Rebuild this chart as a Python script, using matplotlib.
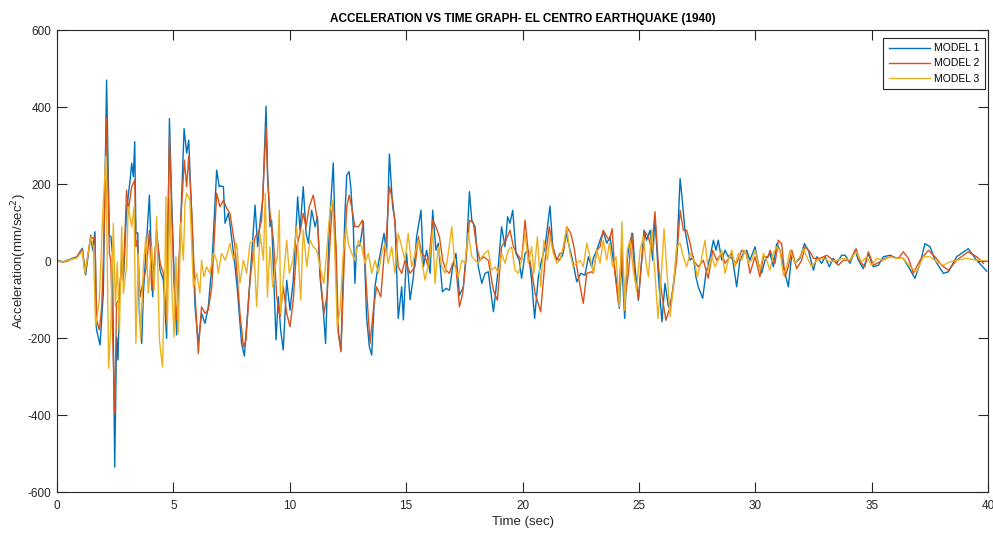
import matplotlib
matplotlib.use("Agg")
import matplotlib.pyplot as plt

plt.rcParams['font.family'] = ['Liberation Sans', 'DejaVu Sans']
plt.rcParams['axes.unicode_minus'] = False

# MODEL 1 (time in sec, acceleration in mm/sec^2)
t1 = [0.0, 0.27, 0.56, 0.85, 1.09, 1.23, 1.45, 1.53, 1.63, 1.70, 1.85, 1.99, 2.13, 2.25, 2.32, 2.38,
      2.48, 2.56, 2.62, 2.68, 2.78, 2.85, 2.99, 3.14, 3.21, 3.28, 3.34, 3.39, 3.47, 3.54, 3.64, 3.71,
      3.97, 4.11, 4.28, 4.43, 4.57, 4.71, 4.83, 4.93, 5.03, 5.14, 5.31, 5.46, 5.57, 5.66, 5.79, 5.93,
      6.07, 6.21, 6.36, 6.50, 6.65, 6.86, 6.97, 7.03, 7.15, 7.22, 7.36, 7.43, 7.65, 7.75, 7.93, 8.05,
      8.29, 8.51, 8.62, 8.75, 8.84, 8.98, 9.05, 9.15, 9.22, 9.41, 9.51, 9.61, 9.72, 9.87, 10.01, 10.15,
      10.34, 10.44, 10.58, 10.70, 10.80, 10.94, 11.09, 11.19, 11.30, 11.44, 11.54, 11.69, 11.87, 11.99,
      12.09, 12.20, 12.37, 12.45, 12.55, 12.62, 12.73, 12.80, 12.87, 13.02, 13.16, 13.30, 13.42, 13.52,
      13.66, 13.81, 14.05, 14.16, 14.28, 14.42, 14.52, 14.66, 14.81, 14.88, 15.02, 15.17, 15.31, 15.45,
      15.64, 15.74, 15.88, 16.03, 16.14, 16.28, 16.38, 16.56, 16.71, 16.86, 17.00, 17.14, 17.29, 17.46,
      17.60, 17.72, 17.82, 17.96, 18.10, 18.25, 18.39, 18.53, 18.75, 18.92, 19.10, 19.25, 19.36, 19.46,
      19.58, 19.72, 19.86, 19.96, 20.11, 20.25, 20.39, 20.52, 20.68, 20.82, 20.97, 21.18, 21.30, 21.44,
      21.58, 21.72, 21.87, 22.01, 22.15, 22.33, 22.50, 22.68, 22.83, 22.97, 23.04, 23.19, 23.33, 23.47,
      23.62, 23.76, 23.90, 24.02, 24.16, 24.26, 24.39, 24.50, 24.59, 24.73, 24.83, 24.98, 25.12, 25.22,
      25.33, 25.48, 25.59, 25.69, 25.84, 25.99, 26.12, 26.27, 26.41, 26.55, 26.65, 26.77, 26.85, 26.98,
      27.08, 27.20, 27.34, 27.45, 27.55, 27.74, 27.88, 28.06, 28.20, 28.31, 28.41, 28.56, 28.70, 28.84,
      28.99, 29.20, 29.34, 29.49, 29.63, 29.77, 29.99, 30.13, 30.27, 30.42, 30.63, 30.78, 30.92, 31.06,
      31.21, 31.42, 31.57, 31.71, 31.92, 32.11, 32.28, 32.50, 32.64, 32.85, 33.00, 33.18, 33.35, 33.50,
      33.71, 33.86, 34.07, 34.29, 34.43, 34.64, 34.86, 35.07, 35.29, 35.50, 35.79, 36.08, 36.36, 36.58,
      36.86, 37.08, 37.29, 37.51, 37.72, 38.08, 38.30, 38.65, 39.15, 39.51, 39.94]
a1 = [2, -2, 5, 11, 33, -36, 67, 28, 76, -179, -218, -84, 470, 67, 63, 20,
      -535, -197, -257, -101, 3, -50, 132, 210, 254, 219, 310, 72, 73, -136, -214, -84,
      171, -93, 80, -24, -50, -201, 370, 150, -32, -192, 89, 344, 280, 314, 115, -119,
      -214, -136, -162, -119, -15, 236, 193, 195, 193, 98, 124, 98, -15, -75, -214, -247,
      -50, 145, 37, 115, 158, 402, 228, 89, 106, -205, -93, -180, -231, -50, -128, -50,
      167, 80, 193, 72, 46, 132, 89, 115, -41, -128, -214, 80, 255, -24,
      -188, -231, 124, 223, 232, 193, 89, -58, 37, 41, 102, -145, -223, -244,
      -67, -6, 72, 20, 278, 141, 106, -149, -67, -153, 20, -101, -41, 63,
      132, -15, 28, -32, 132, 28, 46, -80, -71, -76, -15, 20, -89, -67,
      37, 180, 106, 89, -15, -58, -32, -28, -132, -41, 89, 37, 115, 98,
      132, 20, 2, -45, 20, 28, -50, -149, -41, 2, 37, 143, 37, 7,
      2, 15, 72, 37, 2, -54, -32, -37, 11, -15, 7, 28, 54, 76,
      46, 63, 2, -45, -123, 2, -149, 2, 46, 72, -15, -102, 2, 80,
      54, 80, 2, 115, -41, -158, -58, -119, -97, -24, 46, 214, 167, 80,
      46, 2, 11, -41, -67, -97, -32, 11, 54, 28, 54, 2, 28, 11,
      20, -67, 2, 20, 28, 2, 37, -6, -32, 2, 20, -15, 45, 28,
      -15, -67, 19, -6, 7, 45, 28, -24, 11, -6, 11, -15, 7, -6,
      15, 15, -6, 28, 2, -20, 19, -15, -11, 11, 15, 7, 7, -15,
      -45, -6, 45, 37, 2, -32, -28, 11, 32, 2, -26]

# MODEL 2
t2 = [0.0, 0.27, 0.56, 0.85, 1.09, 1.20, 1.45, 1.56, 1.63, 1.70, 1.82, 1.92, 1.99, 2.13, 2.25, 2.31,
      2.48, 2.56, 2.65, 2.78, 2.85, 2.99, 3.07, 3.21, 3.34, 3.39, 3.45, 3.57, 3.71, 3.85, 3.97, 4.07,
      4.28, 4.43, 4.57, 4.71, 4.83, 4.93, 5.03, 5.14, 5.31, 5.47, 5.57, 5.66, 5.79, 5.93, 6.07, 6.21,
      6.36, 6.50, 6.65, 6.86, 7.00, 7.15, 7.29, 7.43, 7.65, 7.86, 8.01, 8.12, 8.29, 8.51, 8.65, 8.79,
      8.98, 9.05, 9.15, 9.30, 9.44, 9.58, 9.72, 9.87, 10.01, 10.15, 10.30, 10.44, 10.58, 10.70, 10.84,
      11.01, 11.19, 11.33, 11.47, 11.61, 11.80, 11.87, 11.99, 12.09, 12.20, 12.37, 12.45, 12.55, 12.66,
      12.80, 12.95, 13.13, 13.30, 13.45, 13.59, 13.73, 13.91, 14.05, 14.16, 14.28, 14.42, 14.52, 14.66,
      14.81, 14.95, 15.17, 15.38, 15.52, 15.67, 15.81, 15.95, 16.14, 16.28, 16.43, 16.57, 16.71, 16.86,
      17.00, 17.14, 17.29, 17.43, 17.57, 17.72, 17.89, 18.03, 18.17, 18.32, 18.53, 18.75, 18.92, 19.10,
      19.29, 19.46, 19.61, 19.75, 19.96, 20.11, 20.25, 20.39, 20.54, 20.78, 20.97, 21.15, 21.30, 21.47,
      21.61, 21.75, 21.90, 22.07, 22.21, 22.40, 22.61, 22.76, 22.97, 23.04, 23.19, 23.33, 23.47, 23.62,
      23.73, 23.85, 23.97, 24.12, 24.26, 24.39, 24.55, 24.69, 24.83, 24.98, 25.12, 25.26, 25.41, 25.55,
      25.69, 25.84, 25.98, 26.16, 26.34, 26.48, 26.62, 26.77, 26.91, 27.05, 27.20, 27.34, 27.55, 27.77,
      27.98, 28.17, 28.34, 28.56, 28.70, 28.91, 29.20, 29.42, 29.63, 29.77, 29.99, 30.20, 30.35, 30.56,
      30.63, 30.85, 30.99, 31.13, 31.28, 31.42, 31.57, 31.78, 31.99, 32.14, 32.35, 32.50, 32.78, 33.07,
      33.35, 33.57, 33.78, 34.07, 34.33, 34.50, 34.71, 34.86, 35.07, 35.36, 35.57, 35.86, 36.15, 36.36,
      36.58, 36.79, 37.08, 37.44, 37.72, 38.01, 38.30, 38.65, 39.15, 39.51, 39.80]
a2 = [0, -3, 3, 9, 30, -32, 63, 59, 63, -153, -179, -119, 2, 370, 20, 2,
      -396, -110, -101, -6, -41, 184, 132, 193, 210, 37, 54, -93, -50, -15, 80, -76,
      72, -6, -32, -153, 325, 124, -67, -153, 98, 262, 193, 271, 124, -84, -240, -119,
      -136, -127, -67, 176, 141, 158, 137, 124, 37, -136, -223, -205, -50, 63, 72, 106,
      349, 210, 124, 54, -93, -145, -67, -136, -171, -102, 37, 72, 124, 89, 141,
      171, 106, -50, -136, -84, 124, 150, 37, -188, -236, 54, 141, 171, 141,
      89, 89, 106, -76, -214, -128, -67, -93, 11, 72, 193, 158, 98, -15,
      -32, 2, -32, -15, 63, 20, 11, -15, 106, 89, 63, 2, -24, -32,
      -6, -15, -119, -84, 2, 106, 98, 37, 2, 11, 2, -76, -102, 37,
      54, 80, 37, 20, 2, 106, 20, -24, -84, -132, 2, 89, 37, 2,
      20, 20, 89, 72, 37, -41, -110, -32, -28, -32, 28, 37, 80, 63,
      54, 84, -32, -110, 37, -102, -32, 72, -41, -97, 2, 76, 63, 28,
      128, -15, -84, -154, -119, -67, 2, 132, 80, 80, 46, 2, -15, 2,
      -45, 28, 2, 20, -6, 11, -6, 28, 20, -32, 11, -41, 11, 11,
      28, -6, 54, 45, -41, -15, 28, -20, 2, 37, 24, 7, 7, 15,
      2, -11, 2, 2, 32, -2, -15, 24, -11, -2, 7, 11, 7, 24,
      7, -32, 2, 28, 11, -11, -24, 2, 24, 11, -6]

# MODEL 3
t3 = [0.0, 0.27, 0.56, 0.85, 1.09, 1.20, 1.45, 1.56, 1.66, 1.82, 1.96, 2.10, 2.22, 2.31, 2.42, 2.51,
      2.59, 2.68, 2.78, 2.85, 2.99, 3.06, 3.21, 3.31, 3.39, 3.49, 3.59, 3.71, 3.82, 3.92, 4.07, 4.17,
      4.28, 4.40, 4.53, 4.64, 4.68, 4.74, 4.85, 4.93, 5.03, 5.11, 5.21, 5.31, 5.43, 5.50, 5.57, 5.71,
      5.86, 6.00, 6.14, 6.21, 6.31, 6.43, 6.57, 6.72, 6.86, 6.93, 7.07, 7.22, 7.36, 7.43, 7.58, 7.72,
      7.86, 8.01, 8.15, 8.29, 8.44, 8.58, 8.72, 8.87, 8.95, 9.04, 9.15, 9.27, 9.37, 9.47, 9.55, 9.61,
      9.72, 9.87, 9.98, 10.13, 10.30, 10.47, 10.58, 10.73, 10.87, 11.01, 11.16, 11.30, 11.47, 11.73,
      11.84, 11.94, 12.04, 12.16, 12.30, 12.42, 12.52, 12.66, 12.80, 12.95, 13.09, 13.23, 13.38, 13.52,
      13.66, 13.81, 13.95, 14.09, 14.23, 14.38, 14.52, 14.66, 14.81, 14.95, 15.09, 15.24, 15.38, 15.52,
      15.67, 15.81, 16.00, 16.14, 16.24, 16.38, 16.53, 16.67, 16.81, 16.96, 17.10, 17.24, 17.39, 17.53,
      17.67, 17.82, 17.96, 18.10, 18.25, 18.39, 18.53, 18.67, 18.82, 18.96, 19.10, 19.25, 19.39, 19.53,
      19.68, 19.82, 19.96, 20.11, 20.25, 20.39, 20.49, 20.64, 20.78, 20.92, 21.07, 21.18, 21.32, 21.47,
      21.61, 21.75, 21.90, 22.04, 22.18, 22.33, 22.47, 22.61, 22.76, 22.90, 23.04, 23.19, 23.33, 23.47,
      23.62, 23.73, 23.87, 24.02, 24.16, 24.27, 24.39, 24.50, 24.62, 24.76, 24.90, 25.05, 25.19, 25.31,
      25.41, 25.55, 25.69, 25.82, 25.94, 26.08, 26.19, 26.34, 26.48, 26.62, 26.77, 26.91, 27.05, 27.20,
      27.37, 27.51, 27.65, 27.84, 27.98, 28.13, 28.27, 28.41, 28.56, 28.70, 28.84, 28.99, 29.13, 29.27,
      29.42, 29.56, 29.70, 29.85, 29.99, 30.20, 30.35, 30.49, 30.63, 30.78, 30.92, 31.06, 31.21, 31.35,
      31.49, 31.71, 31.92, 32.07, 32.21, 32.42, 32.64, 32.93, 33.21, 33.50, 33.78, 34.07, 34.33, 34.57,
      34.79, 35.00, 35.22, 35.50, 35.79, 36.08, 36.36, 36.65, 36.93, 37.22, 37.51, 37.79, 38.08, 38.37,
      38.65, 39.08, 39.51, 40.0]
a3 = [0, -2, 4, 8, 25, -32, 63, 37, -171, -101, 115, 271, -279, -171, 98, -119,
      -2, -188, 89, -84, -15, 141, 89, 141, -214, 20, -205, -15, 63, -84, 37, -76,
      115, -205, -275, -15, 167, -171, 167, -67, -197, 11, -188, 98, 2, 150, 176, 158,
      -67, -32, -84, 2, -41, -15, -32, 20, 2, -32, 20, 2, 28, 46, 2, 46,
      -58, 2, -32, 46, 54, -119, 72, 2, 176, -93, 37, -67, -15, 11, 132, -136,
      -50, 54, -32, 2, 89, -102, 80, -15, 54, 37, 28, -15, -58, 132,
      158, 20, -171, -128, 20, 89, 46, 20, 2, 54, 37, -6, 20, -32,
      2, -32, 20, 46, -6, 37, -32, 72, 37, 2, 72, -15, 20, 54,
      2, -50, 2, 80, -58, 37, -15, -32, 20, 89, -15, -41, 2, -6,
      72, 11, 2, -6, 11, 20, 28, -24, -15, -32, 20, -6, 28, 37,
      -24, -32, 2, 72, -6, 37, -32, 63, -67, 54, 2, 63, 20, -6,
      2, 37, 89, 20, -15, -6, 2, -15, 46, 11, -32, 28, -6, 54,
      2, 46, -15, 11, -119, 102, -128, 28, 54, -24, -76, 28, 63, -6,
      -41, 80, -32, -149, -58, 84, -15, -145, -67, 37, 46, 11, -15, 20,
      2, -41, -6, 54, -24, 11, -15, 2, 28, -32, 2, 28, -15, 20,
      2, 28, -6, 2, 28, -24, 20, 2, -24, 19, 37, 28, -37, -15,
      28, -6, 11, 32, 11, -15, 2, 7, -2, 2, 7, 2, 24, -2,
      11, -11, 7, 2, 11, 7, 7, -15, -28, 11, 11, -2, -11, -2,
      2, 7, 2, 0]

fig = plt.figure(figsize=(9.93, 5.33), dpi=100)
ax = fig.add_axes([0.0574, 0.0769, 0.9376, 0.8668])

ax.plot(t1, a1, color='#0072BD', lw=1.0, label='MODEL 1')
ax.plot(t2, a2, color='#D95319', lw=1.0, label='MODEL 2')
ax.plot(t3, a3, color='#EDB120', lw=1.0, label='MODEL 3')

ax.set_xlim(0, 40)
ax.set_ylim(-600, 600)
ax.set_xticks(range(0, 41, 5))
ax.set_yticks(range(-600, 601, 200))
ax.tick_params(direction='in', length=7, width=0.8, labelsize=8.5, colors='#262626',
               top=True, right=True)
ax.tick_params(axis='x', pad=6)
ax.tick_params(axis='y', pad=4)
for s in ax.spines.values():
    s.set_color('#262626')
    s.set_linewidth(0.8)

ax.set_title('ACCELERATION VS TIME GRAPH- EL CENTRO EARTHQUAKE (1940)',
             fontsize=8.5, fontweight='bold', pad=6)
ax.set_xlabel('Time (sec)', fontsize=9.5, color='#262626')
ax.set_ylabel('Acceleration(mm/sec$^2$)', fontsize=9.5, color='#262626')
ax.xaxis.set_label_coords(0.5, -0.052)
ax.yaxis.set_label_coords(-0.030, 0.5)

leg = ax.legend(loc='upper right', bbox_to_anchor=(0.9968, 0.9827), borderaxespad=0,
                fontsize=7.5, fancybox=False, framealpha=1,
                edgecolor='#262626', handlelength=4.0,
                handletextpad=0.4, labelspacing=0.5, borderpad=0.5)
leg.get_frame().set_linewidth(0.8)

fig.savefig('out.png', dpi=100)
